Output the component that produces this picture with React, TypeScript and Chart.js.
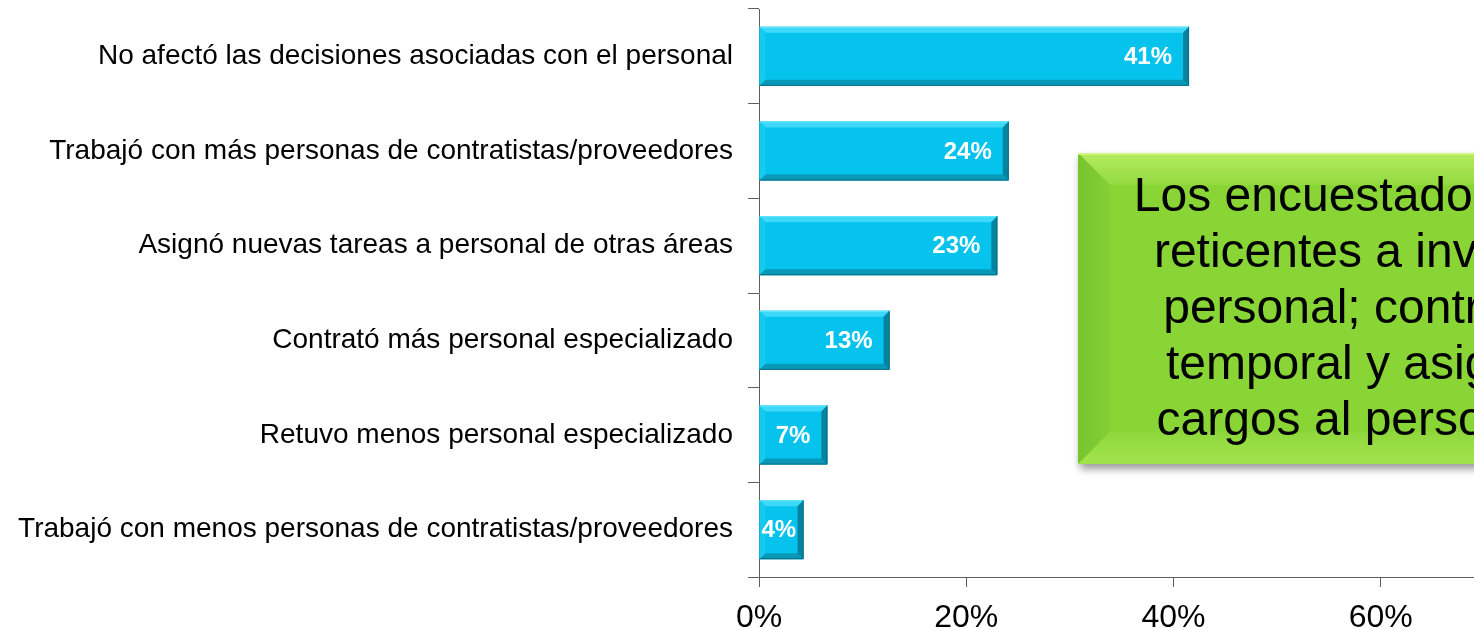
import React, { useEffect, useRef } from "react";
import { Chart, registerables } from "chart.js";

Chart.register(...registerables);

const categories = [
  "No afectó las decisiones asociadas con el personal",
  "Trabajó con más personas de contratistas/proveedores",
  "Asignó nuevas tareas a personal de otras áreas",
  "Contrató más personal especializado",
  "Retuvo menos personal especializado",
  "Trabajó con menos personas de contratistas/proveedores",
];
const values = [41.5, 24.1, 23.0, 12.6, 6.6, 4.3];
const valueLabels = ["41%", "24%", "23%", "13%", "7%", "4%"];
const xTicks = [0, 20, 40, 60, 80];
const calloutLines = [
  "Los encuestados fueron",
  "reticentes a invertir en",
  "personal; contrataron",
  "temporal y asignaron",
  "cargos al personal fijo",
];

const FONT = "'Liberation Sans', Arial, sans-serif";
const AXIS_COLOR = "#5E5E5E";

const bevelPlugin = {
  id: "bevel",
  afterDatasetsDraw(chart: any) {
    const ctx = chart.ctx;
    const meta = chart.getDatasetMeta(0);
    meta.data.forEach((bar: any, i: number) => {
      const p = bar.getProps(["x", "y", "base", "height"], true);
      const x0 = Math.min(p.base, p.x);
      const x1 = Math.max(p.base, p.x);
      const y0 = p.y - p.height / 2;
      const y1 = p.y + p.height / 2;
      const b = Math.min(6, (x1 - x0) / 2);
      ctx.save();
      // top
      ctx.fillStyle = "#3ED8F8";
      ctx.beginPath();
      ctx.moveTo(x0, y0);
      ctx.lineTo(x1, y0);
      ctx.lineTo(x1 - b, y0 + b);
      ctx.lineTo(x0 + b, y0 + b);
      ctx.closePath();
      ctx.fill();
      // left
      ctx.fillStyle = "#14CAF0";
      ctx.beginPath();
      ctx.moveTo(x0, y0);
      ctx.lineTo(x0 + b, y0 + b);
      ctx.lineTo(x0 + b, y1 - b);
      ctx.lineTo(x0, y1);
      ctx.closePath();
      ctx.fill();
      // bottom
      ctx.fillStyle = "#0998B8";
      ctx.beginPath();
      ctx.moveTo(x0, y1);
      ctx.lineTo(x0 + b, y1 - b);
      ctx.lineTo(x1 - b, y1 - b);
      ctx.lineTo(x1, y1);
      ctx.closePath();
      ctx.fill();
      // right
      ctx.fillStyle = "#07839F";
      ctx.beginPath();
      ctx.moveTo(x1, y0);
      ctx.lineTo(x1, y1);
      ctx.lineTo(x1 - b, y1 - b);
      ctx.lineTo(x1 - b, y0 + b);
      ctx.closePath();
      ctx.fill();
      // top highlight line
      ctx.strokeStyle = "#66E6FF";
      ctx.lineWidth = 1;
      ctx.beginPath();
      ctx.moveTo(x0, y0 + 0.5);
      ctx.lineTo(x1, y0 + 0.5);
      ctx.stroke();
      // outline right/bottom
      ctx.strokeStyle = "#0B6F86";
      ctx.beginPath();
      ctx.moveTo(x1 - 0.5, y0);
      ctx.lineTo(x1 - 0.5, y1 - 0.5);
      ctx.lineTo(x0, y1 - 0.5);
      ctx.stroke();

      // value label
      ctx.font = `bold 24px ${FONT}`;
      ctx.fillStyle = "#FFFFFF";
      ctx.textBaseline = "middle";
      ctx.textAlign = "right";
      const label = valueLabels[i];
      const w = ctx.measureText(label).width;
      let tx = x1 - 17;
      if (tx - w < x0 + 2) tx = x0 + 2 + w;
      ctx.fillText(label, tx, p.y + 1);
      ctx.restore();
    });
  },
};

export default function App() {
  const ref = useRef<HTMLCanvasElement | null>(null);

  useEffect(() => {
    if (!ref.current) return;
    const chart = new Chart(ref.current, {
      type: "bar",
      data: {
        labels: categories,
        datasets: [
          {
            data: values,
            backgroundColor: "#05C3EC",
            borderWidth: 0,
            barPercentage: 0.623,
            categoryPercentage: 1,
          },
        ],
      },
      plugins: [bevelPlugin],
      options: {
        indexAxis: "y",
        responsive: false,
        animation: false,
        maintainAspectRatio: false,
        layout: { padding: { left: 0, top: 9, right: 212, bottom: 0 } },
        plugins: {
          legend: { display: false },
          tooltip: { enabled: false },
          title: { display: false },
        },
        scales: {
          x: {
            min: 0,
            max: 80,
            afterBuildTicks: (scale: any) => {
              scale.ticks = xTicks.map((v) => ({ value: v }));
            },
            afterFit: (scale: any) => {
              scale.height = 53;
              scale.paddingLeft = 0;
              scale.paddingRight = 0;
            },
            ticks: {
              color: "#000000",
              font: { family: FONT, size: 32 },
              padding: 12,
              callback: (v: any) => `${v}%`,
              maxRotation: 0,
            },
            grid: {
              drawOnChartArea: false,
              drawTicks: true,
              tickLength: 10,
              color: AXIS_COLOR,
            },
            border: { display: true, color: AXIS_COLOR, width: 1 },
          },
          y: {
            afterFit: (scale: any) => {
              scale.width = 759;
              scale.paddingTop = 0;
              scale.paddingBottom = 0;
            },
            ticks: {
              color: "#000000",
              font: { family: FONT, size: 28 },
              padding: 15,
            },
            grid: {
              drawOnChartArea: false,
              drawTicks: true,
              tickLength: 11,
              offset: true,
              color: AXIS_COLOR,
            },
            border: { display: true, color: AXIS_COLOR, width: 1 },
          },
        },
      },
    });
    return () => chart.destroy();
  }, []);

  const boxW = 624;
  const boxH = 311;
  const bev = 32;

  return (
    <div
      style={{
        position: "absolute",
        left: 0,
        top: 0,
        width: 1474,
        height: 630,
        overflow: "hidden",
        background: "#FFFFFF",
      }}
    >
      <canvas ref={ref} width={1800} height={630} style={{ position: "absolute", left: 0, top: 0 }} />
      <div
        style={{
          position: "absolute",
          left: 1078,
          top: 153,
          width: boxW,
          height: boxH,
          background: "#8AD536",
          boxShadow: "2px 5px 8px rgba(0,0,0,0.4)",
          overflow: "hidden",
        }}
      >
        <div
          style={{
            position: "absolute",
            left: 0,
            top: 0,
            width: boxW,
            height: boxH,
            background: `linear-gradient(180deg, #B4EB5E 0px, #93DA40 ${bev}px)`,
            clipPath: `polygon(0 0, ${boxW}px 0, ${boxW - bev}px ${bev}px, ${bev}px ${bev}px)`,
          }}
        />
        <div
          style={{
            position: "absolute",
            left: 0,
            top: 0,
            width: boxW,
            height: boxH,
            background: `linear-gradient(90deg, #78C42E 0px, #84CF34 ${bev}px)`,
            clipPath: `polygon(0 0, ${bev}px ${bev}px, ${bev}px ${boxH - bev}px, 0 ${boxH}px)`,
          }}
        />
        <div
          style={{
            position: "absolute",
            left: 0,
            top: 0,
            width: boxW,
            height: boxH,
            background: `linear-gradient(0deg, #A2E34C 0px, #8FD83C ${bev}px)`,
            clipPath: `polygon(0 ${boxH}px, ${bev}px ${boxH - bev}px, ${boxW - bev}px ${boxH - bev}px, ${boxW}px ${boxH}px)`,
          }}
        />
        <div
          style={{
            position: "absolute",
            left: 0,
            top: 0,
            width: boxW,
            height: 2,
            background: "#D0F47E",
          }}
        />
        <div
          style={{
            position: "absolute",
            left: 0,
            top: 14,
            width: boxW,
            textAlign: "center",
            fontFamily: FONT,
            fontSize: 48,
            lineHeight: "56px",
            color: "#000000",
            whiteSpace: "nowrap",
          }}
        >
          {calloutLines.map((l, i) => (
            <div key={i}>{l}</div>
          ))}
        </div>
      </div>
    </div>
  );
}
